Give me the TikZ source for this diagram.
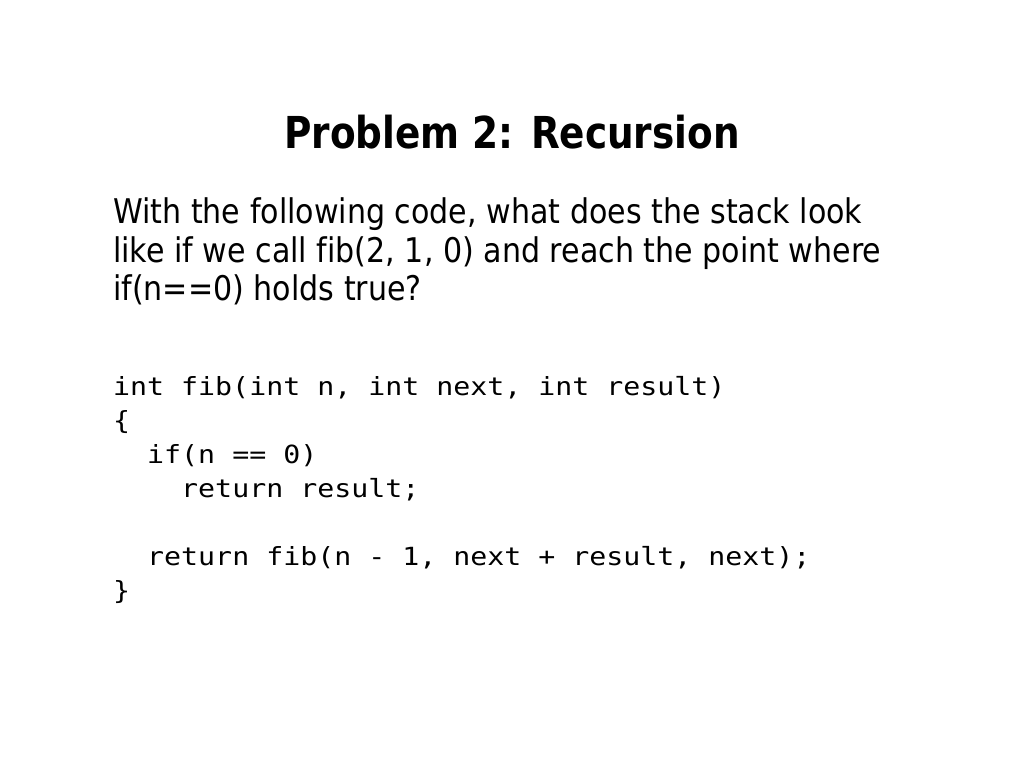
\documentclass[tikz,border=0pt]{standalone}
\usepackage{fontspec}
\setmainfont{DejaVu Sans}
\newfontfamily\titlefont{DejaVu Sans}[FakeStretch=0.85]
\newfontfamily\bodyfont{DejaVu Sans}[FakeStretch=0.885,Ligatures=NoCommon]
\newfontfamily\codefont{DejaVu Sans Mono}[FakeStretch=1.13]
\begin{document}
\begin{tikzpicture}[x=1pt,y=-1pt,
  titlestyle/.style={anchor=base,inner sep=0pt,font=\titlefont\fontsize{44pt}{44pt}\selectfont\bfseries},
  bodystyle/.style={anchor=base west,inner sep=0pt,font=\bodyfont\fontsize{34pt}{39pt}\selectfont},
  codestyle/.style={anchor=base west,inner sep=0pt,font=\codefont\fontsize{25pt}{34pt}\selectfont}]
\useasboundingbox[fill=white] (0,0) rectangle (1024,768);
\node[titlestyle] (title) at (512,148) {Problem 2: Recursion};
\node[bodystyle] (b1) at (113,223) {With the following code, what does the stack look};
\node[bodystyle] (b2) at (113,262) {like if we call fib(2, 1, 0) and reach the point where};
\node[bodystyle] (b3) at (113,300) {if(n==0) holds true?};
\node[codestyle] (c1) at (113,395) {int~fib(int~n,~int~next,~int~result)};
\node[codestyle] (c2) at (113,429) {\{};
\node[codestyle] (c3) at (113,463) {~~if(n~==~0)};
\node[codestyle] (c4) at (113,497) {~~~~return~result;};
\node[codestyle] (c6) at (113,565) {~~return~fib(n~-~1,~next~+~result,~next);};
\node[codestyle] (c7) at (113,599) {\}};
\end{tikzpicture}
\end{document}
